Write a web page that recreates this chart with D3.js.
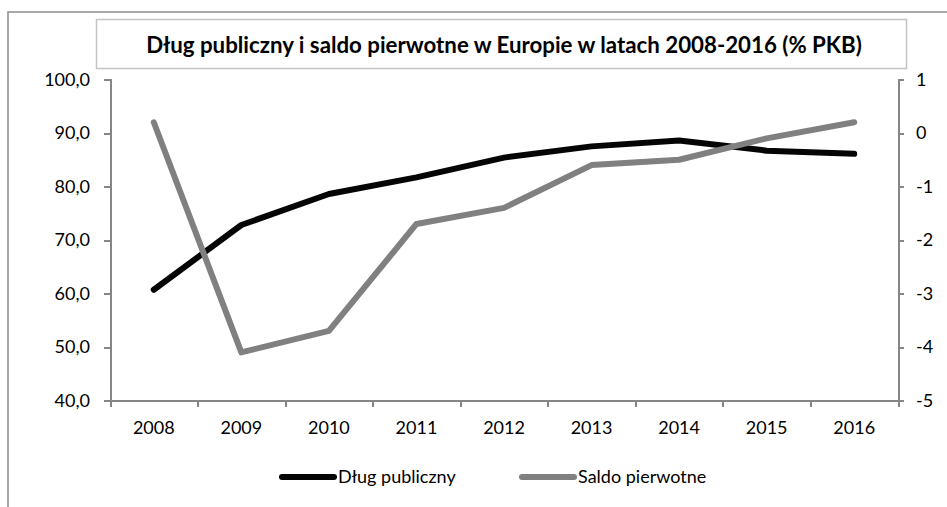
<!DOCTYPE html>
<html lang="pl">

<head>
    <meta charset="utf-8">
    <style type="text/css">
        body { margin: 0; background: #fff; }
        svg { display: block; font-family: Lato, "Open Sans", sans-serif; }
        .axis path, .axis line { stroke: #868686; stroke-width: 2px; shape-rendering: crispEdges; }
        .axis text { fill: #000; font-size: 18px; font-family: Lato, "Open Sans", sans-serif; }
    </style>
</head>

<body>
    <svg width="947" height="507"></svg>
    <script src="https://d3js.org/d3.v7.min.js"></script>
    <script type="text/javascript">
        // data
        var years = ["2008", "2009", "2010", "2011", "2012", "2013", "2014", "2015", "2016"];
        var dlug = [60.7, 72.8, 78.6, 81.7, 85.4, 87.5, 88.6, 86.7, 86.1];
        var saldo = [0.2, -4.1, -3.7, -1.7, -1.4, -0.6, -0.5, -0.1, 0.2];
        var leftTicks = [40, 50, 60, 70, 80, 90, 100];
        var rightTicks = [-5, -4, -3, -2, -1, 0, 1];
        var seriesNames = ["Dług publiczny", "Saldo pierwotne"];
        var title = "Dług publiczny i saldo pierwotne w Europie w latach 2008-2016 (% PKB)";

        var svg = d3.select("svg");
        // comma decimals, plain hyphen for minus like the original
        var pl = d3.formatLocale({ decimal: ",", thousands: " ", grouping: [3], currency: ["", " zł"], minus: "-" });

        // plot area (window.top is taken, so own names)
        var plotLeft = 110, plotRight = 898, plotTop = 79.5, plotBottom = 400.5;

        // outer chart frame (cut off at right and bottom)
        svg.append("rect")
            .attr("x", 8).attr("y", 12)
            .attr("width", 960).attr("height", 520)
            .attr("fill", "none")
            .attr("stroke", "#8c8c8c")
            .attr("stroke-width", 1.5);

        // title box
        svg.append("rect")
            .attr("x", 96.5).attr("y", 19.5)
            .attr("width", 810).attr("height", 49)
            .attr("fill", "#fff")
            .attr("stroke", "#c4c4c4")
            .attr("stroke-width", 1.5);

        var t = svg.append("text")
            .attr("x", 504).attr("y", 45)
            .attr("dy", "0.35em")
            .attr("text-anchor", "middle")
            .attr("font-weight", "bold")
            .attr("font-size", 20)
            .text(title);
        // fit title to width of the original
        var w = t.node().getComputedTextLength();
        t.attr("font-size", 20 * 716 / w);

        var x = d3.scaleBand().domain(years).range([plotLeft, plotRight]);
        var xEdge = d3.scaleLinear().domain([0, years.length]).range([plotLeft, plotRight]);
        var yL = d3.scaleLinear().domain([40, 100]).range([plotBottom, plotTop]);
        var yR = d3.scaleLinear().domain([-5, 1]).range([plotBottom, plotTop]);

        function cx(d, i) { return x(years[i]) + x.bandwidth() / 2; }

        // axes
        svg.append("g").attr("class", "axis")
            .attr("transform", "translate(" + plotLeft + ",0)")
            .call(d3.axisLeft(yL).tickValues(leftTicks).tickSizeOuter(0).tickSize(6).tickPadding(14)
                .tickFormat(pl.format(".1f")));

        svg.append("g").attr("class", "axis")
            .attr("transform", "translate(" + plotRight + ",0)")
            .call(d3.axisRight(yR).tickValues(rightTicks).tickSizeOuter(0).tickSize(6).tickPadding(12)
                .tickFormat(pl.format("d")));

        svg.append("g").attr("class", "axis")
            .attr("transform", "translate(0," + plotBottom + ")")
            .call(d3.axisBottom(xEdge).tickValues(d3.range(0, years.length + 1)).tickSizeOuter(0).tickSize(6)
                .tickFormat(""));

        var xl = svg.append("g").attr("class", "axis")
            .attr("transform", "translate(0," + plotBottom + ")")
            .call(d3.axisBottom(x).tickSize(0).tickPadding(21));
        xl.select(".domain").remove();

        // lines
        var lineL = d3.line().x(cx).y(function (d) { return yL(d); });
        var lineR = d3.line().x(cx).y(function (d) { return yR(d); });

        svg.append("path")
            .datum(dlug)
            .attr("d", lineL)
            .attr("fill", "none")
            .attr("stroke", "#050505")
            .attr("stroke-width", 6)
            .attr("stroke-linejoin", "round")
            .attr("stroke-linecap", "round");

        svg.append("path")
            .datum(saldo)
            .attr("d", lineR)
            .attr("fill", "none")
            .attr("stroke", "#808080")
            .attr("stroke-width", 6)
            .attr("stroke-linejoin", "round")
            .attr("stroke-linecap", "round");

        // legend
        var legendColors = ["#050505", "#808080"];
        var legendX = [282, 522];
        var lg = svg.selectAll(".leg")
            .data(seriesNames)
            .enter()
            .append("g")
            .attr("class", "leg")
            .attr("transform", function (d, i) { return "translate(" + legendX[i] + ",477)"; });

        lg.append("line")
            .attr("x1", 0).attr("x2", 52)
            .attr("stroke", function (d, i) { return legendColors[i]; })
            .attr("stroke-width", 6)
            .attr("stroke-linecap", "round");

        lg.append("text")
            .attr("x", 56)
            .attr("dy", "0.35em")
            .attr("font-size", 18)
            .text(function (d) { return d; });
    </script>
</body>

</html>
